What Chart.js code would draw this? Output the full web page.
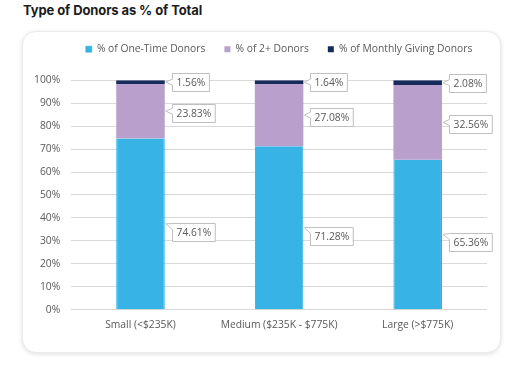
<!DOCTYPE html>
<html>
<head>
<meta charset="utf-8">
<script src="https://cdn.jsdelivr.net/npm/chart.js@4.4.0/dist/chart.umd.min.js"></script>
<style>
  body { margin: 0; background: #fff; width: 512px; height: 374px; overflow: hidden; position: relative; }
  h1 { position: absolute; left: 23px; top: 2px; margin: 0; font: 700 13px Inter, sans-serif; color: #1c1c1c; letter-spacing: -0.1px; }
  .card { position: absolute; left: 22px; top: 31px; width: 479px; height: 322px; border-radius: 14px;
          box-shadow: 0 1px 4px rgba(0,0,0,0.13); border: 1px solid #ececec; box-sizing: border-box; background: #fff; }
  .card canvas { position: absolute; left: 0; top: 0; }
</style>
</head>
<body>
<h1>Type of Donors as % of Total</h1>
<div class="card"><canvas id="chart" width="477" height="320"></canvas></div>
<script>
const categories = ["Small (<$235K)", "Medium ($235K - $775K)", "Large (>$775K)"];
const oneTime = [74.61, 71.28, 65.36];
const twoPlus = [23.83, 27.08, 32.56];
const monthly = [1.56, 1.64, 2.08];
const seriesNames = ["% of One-Time Donors", "% of 2+ Donors", "% of Monthly Giving Donors"];

const textColor = "#595959";
const font = { family: "'Open Sans', sans-serif", size: 10.3 };

// Excel-style callout boxes to the right of each segment
const calloutPlugin = {
  id: "callouts",
  afterDatasetsDraw(chart, args, opts) {
    const ctx = chart.ctx;
    ctx.save();
    ctx.font = `${font.size}px ${font.family}`;
    ctx.textBaseline = "middle";
    chart.data.datasets.forEach((ds, di) => {
      chart.getDatasetMeta(di).data.forEach((bar, i) => {
        const text = ds.data[i].toFixed(2) + "%";
        const mid = (bar.y + bar.base) / 2;
        const tipX = bar.x + bar.width / 2 + 1;
        const tipY = mid;
        const bw = ctx.measureText(text).width + 8;
        const bh = 18;
        const bx = Math.round(tipX + 6) + 0.5;
        const by = Math.round(mid + opts.offsets[di] - bh / 2) + 0.5;
        const wy1 = Math.min(Math.max(tipY - 3, by), by + bh - 6);
        ctx.beginPath();
        ctx.moveTo(bx, by);
        ctx.lineTo(bx + bw, by);
        ctx.lineTo(bx + bw, by + bh);
        ctx.lineTo(bx, by + bh);
        ctx.lineTo(bx, wy1 + 6);
        ctx.lineTo(tipX, tipY);
        ctx.lineTo(bx, wy1);
        ctx.closePath();
        ctx.fillStyle = "#fff";
        ctx.fill();
        ctx.strokeStyle = "#bfbfbf";
        ctx.lineWidth = 1;
        ctx.stroke();
        ctx.fillStyle = textColor;
        ctx.fillText(text, bx + 4, by + bh / 2 + 0.5);
      });
    });
    ctx.restore();
  }
};

// extra space under the legend, and centre it over the plot area
const legendGap = {
  id: "legendGap",
  beforeInit(chart) {
    const legend = chart.legend;
    const fit = legend.fit;
    legend.fit = function () {
      fit.call(this);
      this.height += 16;
    };
    const draw = legend.draw;
    legend.draw = function (area) {
      const ca = chart.chartArea;
      const dx = (ca.left + ca.right) / 2 - (this.left + this.right) / 2;
      chart.ctx.save();
      chart.ctx.translate(dx, 0);
      draw.call(this, area);
      chart.ctx.restore();
    };
  }
};

new Chart(document.getElementById("chart"), {
  type: "bar",
  data: {
    labels: categories,
    datasets: [
      { label: seriesNames[0], data: oneTime, backgroundColor: "#38b3e6", borderColor: "#1aa9e2", borderWidth: { left: 1, right: 1 } },
      { label: seriesNames[1], data: twoPlus, backgroundColor: "#b99fcb" },
      { label: seriesNames[2], data: monthly, backgroundColor: "#172a5c" }
    ]
  },
  options: {
    responsive: false,
    animation: false,
    devicePixelRatio: 1,
    barPercentage: 0.35,
    categoryPercentage: 1,
    layout: { padding: { top: -7, left: 0, right: 13, bottom: 20 } },
    plugins: {
      legend: {
        position: "top",
        labels: { boxWidth: 6, boxHeight: 6, padding: 19, color: textColor, font: font }
      },
      tooltip: { enabled: false },
      callouts: { offsets: [8, 2, 0] }
    },
    scales: {
      x: {
        stacked: true,
        grid: { display: false },
        border: { display: false },
        ticks: { color: textColor, font: font, padding: 1 }
      },
      y: {
        stacked: true,
        min: 0,
        max: 100,
        grid: { color: "#d9d9d9", drawTicks: false },
        border: { display: false },
        ticks: { stepSize: 10, color: textColor, font: font, padding: 11, callback: v => v + "%" }
      }
    }
  },
  plugins: [calloutPlugin, legendGap]
});
</script>
</body>
</html>
